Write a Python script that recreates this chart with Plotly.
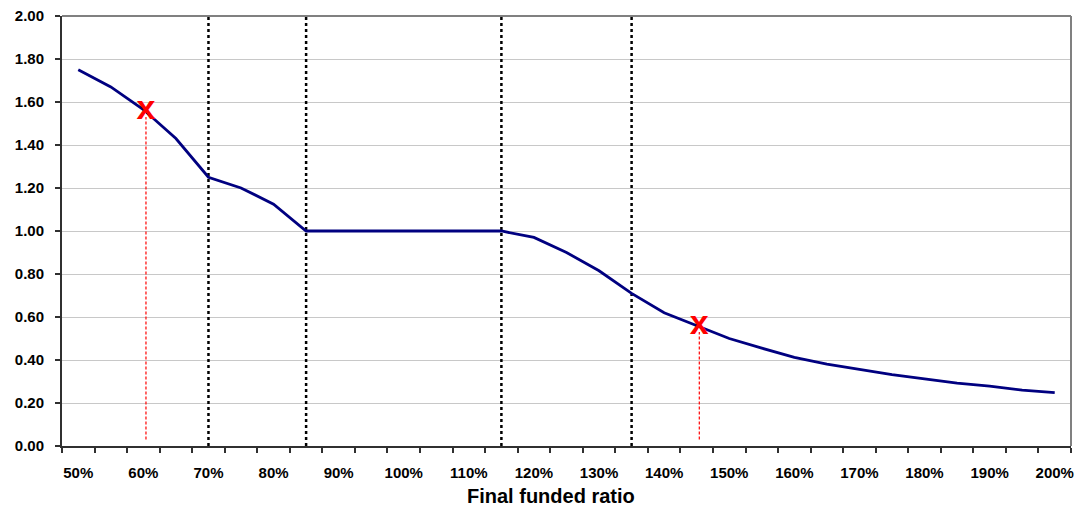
import plotly.graph_objects as go

# Final funded ratio (%) and the corresponding factor
funded_ratio = [50, 55, 60, 65, 70, 75, 80, 85, 90, 95, 100, 105, 110, 115,
                120, 125, 130, 135, 140, 145, 150, 155, 160, 165, 170, 175,
                180, 185, 190, 195, 200]
factor = [1.75, 1.67, 1.565, 1.43, 1.25, 1.20, 1.125, 1.00, 1.00, 1.00, 1.00,
          1.00, 1.00, 1.00, 0.97, 0.90, 0.815, 0.71, 0.62, 0.56, 0.50, 0.455,
          0.412, 0.381, 0.357, 0.332, 0.312, 0.292, 0.278, 0.26, 0.248]

# Regime boundaries (dotted verticals)
boundaries = [70, 85, 115, 135]

# Highlighted points
marked_x = [60.4, 145.4]
marked_y = [1.56, 0.56]
marked_base = 0.03

x_labels = [f"{v}%" for v in range(50, 201, 10)]
x_label_vals = list(range(50, 201, 10))
y_ticks = [0.0, 0.2, 0.4, 0.6, 0.8, 1.0, 1.2, 1.4, 1.6, 1.8, 2.0]

FONT = "Liberation Sans, Arial, sans-serif"

fig = go.Figure()

for b in boundaries:
    fig.add_trace(go.Scatter(
        x=[b, b], y=[0, 2.0], mode="lines",
        line=dict(color="black", width=2.5, dash="dot"),
        hoverinfo="skip", showlegend=False))

for mx, my in zip(marked_x, marked_y):
    fig.add_trace(go.Scatter(
        x=[mx, mx], y=[marked_base, my - 0.03], mode="lines",
        line=dict(color="#ff0000", width=1.2, dash="3px,2px"),
        hoverinfo="skip", showlegend=False))

fig.add_trace(go.Scatter(
    x=funded_ratio, y=factor, mode="lines",
    line=dict(color="#000080", width=2.8),
    showlegend=False))

fig.add_trace(go.Scatter(
    x=marked_x, y=marked_y, mode="text",
    text=["x", "x"], textposition="middle center",
    textfont=dict(family=FONT, size=34, color="#ff0000", weight="bold"),
    showlegend=False))

minor_vals = [47.5 + 5 * k for k in range(32)]

fig.update_layout(
    width=1075, height=506,
    margin=dict(l=62, r=4, t=16, b=60, autoexpand=False),
    paper_bgcolor="white", plot_bgcolor="white",
    font=dict(family=FONT, size=15, color="black"),
    xaxis=dict(
        range=[47.5, 202.5], automargin=False,
        tickvals=x_label_vals, ticktext=x_labels,
        ticks="outside", ticklen=0, ticklabelstandoff=12,
        tickfont=dict(family=FONT, size=15, weight="bold"),
        showgrid=False, zeroline=False,
        showline=True, linecolor="#303030", linewidth=2,
        minor=dict(tickvals=minor_vals, ticks="outside", ticklen=5,
                   tickcolor="#303030", tickwidth=1.5, showgrid=False),
    ),
    yaxis=dict(
        range=[0, 2.0], automargin=False,
        tickvals=y_ticks, tickformat=".2f",
        ticks="outside", ticklen=5, tickcolor="#303030", tickwidth=1.5,
        ticklabelstandoff=8,
        tickfont=dict(family=FONT, size=15, weight="bold"),
        showgrid=True, gridcolor="#c8c8c8", gridwidth=1,
        zeroline=False,
        showline=True, linecolor="#303030", linewidth=2,
    ),
    shapes=[
        dict(type="line", xref="paper", yref="paper", x0=0, x1=1, y0=1, y1=1,
             line=dict(color="#808080", width=2)),
        dict(type="line", xref="paper", yref="paper", x0=1, x1=1, y0=0, y1=1,
             line=dict(color="#808080", width=2)),
    ],
    annotations=[
        dict(text="<b>Final funded ratio</b>", xref="paper", yref="paper",
             x=(551 - 62) / 1009, y=-50 / 430, xanchor="center", yanchor="middle",
             showarrow=False, font=dict(family=FONT, size=20, color="black")),
    ],
)

fig.write_html("out.html")
